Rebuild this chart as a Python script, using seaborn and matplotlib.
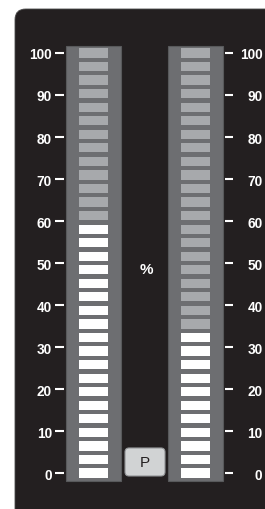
import numpy as np
import pandas as pd
import seaborn as sns
import matplotlib.pyplot as plt
from matplotlib.patches import FancyBboxPatch

# meter data
channels = ["left", "right"]
levels = [59, 33]            # percent level of each meter
n_segments = 32
tick_values = list(range(0, 101, 10))
tick_labels = [str(t) for t in tick_values]
unit_label = "%"
button_label = "P"

# colours
panel_color = "#231f20"
trough_color = "#6d6e71"
off_color = "#a7a9ac"
on_color = "#ffffff"

sns.set_theme(style="white")
plt.rcParams["font.family"] = ["Liberation Sans", "DejaVu Sans"]

seg_values = np.linspace(0, 100, n_segments)
rows = []
for i, (ch, lvl) in enumerate(zip(channels, levels)):
    for v in seg_values:
        rows.append({"channel": ch, "pos": i, "value": v, "lit": v <= lvl})
df = pd.DataFrame(rows)

fig = plt.figure(figsize=(2.65, 5.10), dpi=100)
ax = fig.add_axes([0, 0, 1, 1])
ax.set_facecolor("none")
ax.set_xlim(-0.9167, 1.6814)
ax.set_ylim(-8.571, 112.857)

# dark rounded panel behind the meters
panel = FancyBboxPatch((15 / 265, -0.2), 2, 1.2 - 10 / 510,
                       boxstyle="round,pad=0,rounding_size=0.04",
                       mutation_aspect=265 / 510, transform=fig.transFigure,
                       fc=panel_color, ec="#4a4a4a", lw=0.6, zorder=0)
ax.add_patch(panel)

# troughs
ax.bar([0, 1], 103.6, bottom=-1.9, width=0.53, color=trough_color,
       edgecolor="#58595b", linewidth=0.8, zorder=1)

# segments
seg_h = 2.2
ax.bar(df["pos"], seg_h, bottom=df["value"] - seg_h / 2, width=0.275,
       color=np.where(df["lit"], on_color, off_color), linewidth=0, zorder=2)

# left scale
for s in ["top", "bottom", "right"]:
    ax.spines[s].set_visible(False)
ax.spines["left"].set_position(("data", -0.289))
ax.spines["left"].set_color("none")
ax.set_xticks([])
ax.set_yticks(tick_values, tick_labels)
ax.tick_params(axis="y", left=True, direction="out", length=6.5, width=1.5,
               color="white", pad=2.2, labelcolor="white", labelsize=9.8)
for lbl in ax.get_yticklabels():
    lbl.set_fontweight("bold")

# right scale
ax2 = ax.twinx()
ax2.set_ylim(ax.get_ylim())
for s in ["top", "bottom", "left"]:
    ax2.spines[s].set_visible(False)
ax2.spines["right"].set_position(("data", 1.289))
ax2.spines["right"].set_color("none")
ax2.set_yticks(tick_values, tick_labels)
ax2.tick_params(axis="y", right=True, direction="out", length=6, width=1.5,
                color="white", pad=21, labelcolor="white", labelsize=9.8)
for lbl in ax2.get_yticklabels():
    lbl.set_fontweight("bold")
    lbl.set_horizontalalignment("right")

ax.text(0.515, 48.6, unit_label, color="white", fontsize=11,
        fontweight="bold", ha="center", va="center", zorder=3)

# peak button
btn = FancyBboxPatch((0.309, -0.71), 0.392, 6.67,
                     boxstyle="round,pad=0,rounding_size=0.04",
                     mutation_aspect=102 / 4.2, fc="#d1d3d4", ec="#939598",
                     lw=0.8, zorder=3)
ax.add_patch(btn)
ax.text(0.505, 2.6, button_label, color="#231f20", fontsize=11,
        ha="center", va="center", zorder=4)

fig.savefig("out.png", dpi=100)
